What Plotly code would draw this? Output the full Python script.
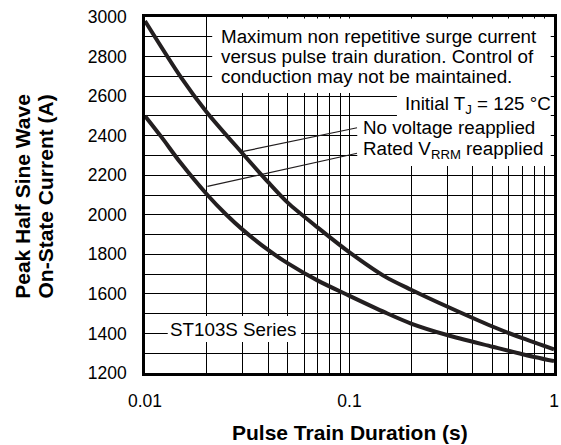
import plotly.graph_objects as go

# ---- data ----
upper_t = [0.01, 0.015, 0.02, 0.03, 0.04, 0.05, 0.07, 0.1, 0.15, 0.2, 0.3, 0.5, 0.7, 1.0]
upper_i = [2980, 2695, 2520, 2310, 2165, 2060, 1935, 1810, 1686, 1621, 1536, 1435, 1376, 1320]

lower_t = [0.01, 0.012, 0.015, 0.02, 0.025, 0.03, 0.04, 0.05, 0.07, 0.1, 0.15, 0.2, 0.3, 0.5, 0.7, 1.0]
lower_i = [2500, 2395, 2260, 2105, 2000, 1925, 1822, 1754, 1667, 1590, 1505, 1450, 1392, 1333, 1295, 1260]

x_ticks = [0.01, 0.1, 1]
x_tick_labels = ["0.01", "0.1", "1"]
x_minor = [m * d for d in (0.01, 0.1) for m in range(2, 10)]
y_ticks = list(range(1200, 3001, 200))

# leader lines (from curve to label)
lead_nv_t = [0.0298, 0.109]
lead_nv_i = [2319, 2440]
lead_rv_t = [0.0202, 0.109]
lead_rv_i = [2144, 2311]

note_lines = ["Maximum non repetitive surge current",
              "versus pulse train duration. Control of",
              "conduction may not be maintained."]
note_y = [2900, 2800, 2700]

INK = "#231f20"
FONT = "Liberation Sans, Arial, Helvetica, sans-serif"

fig = go.Figure()
fig.add_trace(go.Scatter(x=upper_t, y=upper_i, mode="lines", line=dict(color=INK, width=4, shape="spline", smoothing=0.8), hoverinfo="skip"))
fig.add_trace(go.Scatter(x=lower_t, y=lower_i, mode="lines", line=dict(color=INK, width=4, shape="spline", smoothing=0.8), hoverinfo="skip"))
fig.add_trace(go.Scatter(x=lead_nv_t, y=lead_nv_i, mode="lines", line=dict(color=INK, width=1.2), hoverinfo="skip"))
fig.add_trace(go.Scatter(x=lead_rv_t, y=lead_rv_i, mode="lines", line=dict(color=INK, width=1.2), hoverinfo="skip"))

# white label boxes hiding the grid (x in paper, y in data units)
boxes = [
    (0.1643, 0.992, 2616, 2992),
    (0.616, 0.992, 2474, 2616),
    (0.519, 0.992, 2246, 2474),
    (0.0556, 0.3816, 1357, 1488),
]
for x0, x1, y0, y1 in boxes:
    fig.add_shape(type="rect", xref="paper", yref="y", x0=x0, x1=x1, y0=y0, y1=y1,
                  fillcolor="white", line=dict(width=0), layer="above")

txt = dict(family=FONT, size=18.8, color="black")
for line, yv in zip(note_lines, note_y):
    fig.add_annotation(xref="paper", yref="y", x=0.181, y=yv, xanchor="left", yanchor="middle", align="left",
                       showarrow=False, font=txt, text=line)
fig.add_annotation(xref="paper", yref="y", x=0.632, y=2555, xanchor="left", yanchor="middle", align="left",
                   showarrow=False, font=txt, text="Initial T<sub>J</sub> = 125 °C")
fig.add_annotation(xref="paper", yref="y", x=0.529, y=2439, xanchor="left", yanchor="middle", align="left",
                   showarrow=False, font=txt, text="No voltage reapplied")
fig.add_annotation(xref="paper", yref="y", x=0.529, y=2327, xanchor="left", yanchor="middle", align="left",
                   showarrow=False, font=txt, text="Rated V<sub>RRM</sub> reapplied")
fig.add_annotation(xref="paper", yref="y", x=0.215, y=1422, xanchor="center", yanchor="middle",
                   showarrow=False, font=txt, text="ST103S Series")

bold = dict(family=FONT, size=21, color="black", weight="bold")
fig.add_annotation(xref="paper", yref="paper", x=0.5, y=-0.1685, xanchor="center", yanchor="middle",
                   showarrow=False, font=bold, text="Pulse Train Duration (s)")
fig.add_annotation(xref="paper", yref="paper", x=-0.3015, y=0.497, xanchor="center", yanchor="middle",
                   showarrow=False, font=bold, textangle=-90, text="Peak Half Sine Wave")
fig.add_annotation(xref="paper", yref="paper", x=-0.2435, y=0.497, xanchor="center", yanchor="middle",
                   showarrow=False, font=bold, textangle=-90, text="On-State Current (A)")

fig.update_xaxes(type="log", range=[-2, 0], tickvals=x_ticks, ticktext=x_tick_labels,
                 showgrid=True, gridcolor="black", gridwidth=1.2,
                 minor=dict(tickvals=x_minor, showgrid=True, gridcolor="black", gridwidth=1.2, ticks=""),
                 showline=True, mirror=True, linecolor="black", linewidth=2.5,
                 ticks="", ticklabelstandoff=10,
                 tickfont=dict(family=FONT, size=17.5, color="black"), zeroline=False)
fig.update_yaxes(range=[1200, 3000], tickvals=y_ticks,
                 showgrid=True, gridcolor="black", gridwidth=1.2,
                 minor=dict(dtick=100, showgrid=True, gridcolor="black", gridwidth=1.2, ticks=""),
                 showline=True, mirror=True, linecolor="black", linewidth=2.5,
                 ticks="", ticklabelstandoff=12,
                 tickfont=dict(family=FONT, size=17.5, color="black"), zeroline=False)

fig.update_layout(width=561, height=445, margin=dict(l=145, r=2, t=17, b=72),
                  paper_bgcolor="white", plot_bgcolor="white", showlegend=False)

fig.write_html("out.html", config={"displayModeBar": False},
               post_script="document.body.style.margin='0px';")
